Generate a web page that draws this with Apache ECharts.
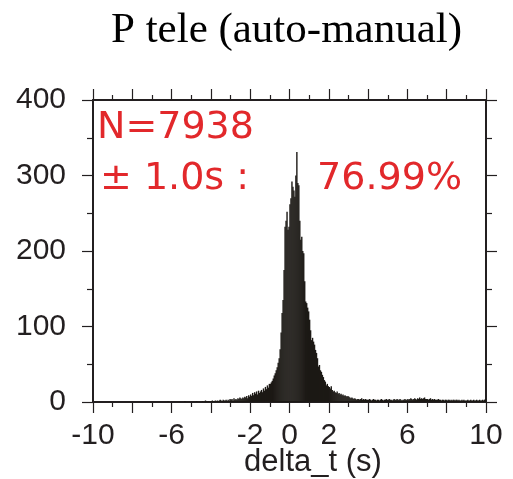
<!DOCTYPE html>
<html><head><meta charset="utf-8">
<script src="https://cdn.jsdelivr.net/npm/echarts@6/dist/echarts.min.js"></script>
<style>html,body{margin:0;padding:0;background:#fff}#c{width:513px;height:479px}</style>
</head><body><div id="c"></div>
<script>
// Histogram bins (0.05 s wide) from -10 s to 10 s
const binStart = -10;
const binWidth = 0.05;
const counts = [
  0,0,0,0,0,0,0,0,0,0,
  0,0,0,0,0,0,0,0,0,0,
  0,0,0,0,0,0,0,0,0,0,
  0,0,0,0,0,0,0,0,0,0,
  0,0,0,0,0,0,0,0,0,0,
  0,0,0,0,0,0,0,0,0,0,
  0,0,0,0,0,0,0,0,0,0,
  0,0,0,0,0,0,1,0,0,0,
  0,0,0,0,0,0,0,0,0,0,
  0,0,0,1,0,0,0,0,0,0,
  0,0,0,0,0,1,0,0,0,0,
  0,1,0,0,2,1,0,1,0,1,
  1,2,1,0,2,1,2,1,2,3,
  2,1,3,2,2,3,1,3,2,4,
  3,4,2,5,3,4,3,5,4,6,
  5,4,6,5,7,6,8,5,9,7,
  10,8,12,9,13,11,14,10,15,12,
  14,16,13,18,15,20,17,22,19,24,
  24,26,28,31,35,38,42,46,52,58,
  70,92,118,135,175,232,240,252,228,232,
  262,270,292,285,280,272,300,331,290,287,
  240,215,219,200,197,160,133,131,125,120,
  109,95,82,85,80,76,69,65,58,47,
  49,42,40,36,33,29,27,22,24,21,
  20,18,21,16,14,15,13,12,14,11,
  12,10,11,9,10,8,9,8,7,8,
  7,6,5,6,5,4,5,4,3,4,
  4,3,4,5,3,4,3,4,3,3,
  3,4,3,2,3,4,3,3,2,3,
  3,2,3,4,3,2,3,3,4,3,
  3,4,3,3,2,3,4,3,3,4,
  3,3,4,3,2,3,3,4,3,3,
  4,3,4,5,4,3,4,5,4,3,
  5,4,6,4,5,4,5,6,4,4,
  4,3,4,5,3,4,3,4,3,3,
  3,4,3,3,2,3,3,2,3,3,
  2,3,3,2,3,2,3,3,2,3,
  3,2,3,2,2,3,2,3,2,2,
  2,3,2,2,3,2,2,3,2,2,
  3,2,2,3,2,2,3,2,3,4
];
const xLabelValues = [-10, -6, -2, 0, 2, 6, 10];
const titleText = 'P tele (auto-manual)';
const xName = 'delta_t (s)';
const statN = 'N=7938';
const statRange = '\u00B1 1.0s :';
const statPct = '76.99%';

const axisColor = '#231f20';
const red = '#e2282b';
const sans = 'Liberation Sans, Arial, sans-serif';
const statFont = '38px "DejaVu Sans", sans-serif';

const chart = echarts.init(document.getElementById('c'), null, {renderer: 'canvas'});
const baseX = {
  type: 'value', min: -10, max: 10, interval: 2,
  axisLine: {show: true, onZero: false, lineStyle: {color: axisColor, width: 2}},
  axisTick: {show: true, inside: false, length: 11, lineStyle: {color: axisColor, width: 1.2}},
  minorTick: {show: true, splitNumber: 2, length: 5, lineStyle: {color: axisColor, width: 1.2}},
  splitLine: {show: false}, minorSplitLine: {show: false}
};
const baseY = {
  type: 'value', min: 0, max: 400, interval: 100,
  axisLine: {show: true, onZero: false, lineStyle: {color: axisColor, width: 2}},
  axisTick: {show: true, inside: false, length: 11, lineStyle: {color: axisColor, width: 1.2}},
  minorTick: {show: true, splitNumber: 2, length: 6, lineStyle: {color: axisColor, width: 1.2}},
  splitLine: {show: false}, minorSplitLine: {show: false}
};
chart.setOption({
  animation: false,
  backgroundColor: '#fff',
  grid: {left: 93, right: 27, top: 100, bottom: 77, containLabel: false, outerBoundsMode: 'none'},
  xAxis: [
    Object.assign({}, baseX, {
      position: 'bottom',
      axisLabel: {
        show: true, margin: 19, fontSize: 30, fontFamily: sans, color: '#231f20',
        formatter: v => xLabelValues.indexOf(v) >= 0 ? String(v) : ''
      },
      name: xName, nameLocation: 'middle', nameGap: 45, nameMoveOverlap: false,
      nameTextStyle: {fontSize: 31, fontFamily: sans, color: '#231f20', padding: [0, 0, 0, 47]}
    }),
    Object.assign({}, baseX, {position: 'top', axisLabel: {show: false}})
  ],
  yAxis: [
    Object.assign({}, baseY, {
      position: 'left',
      axisLabel: {show: true, margin: 27, fontSize: 30, fontFamily: sans, color: '#231f20'}
    }),
    Object.assign({}, baseY, {position: 'right', axisLabel: {show: false}})
  ],
  series: [{
    type: 'bar', xAxisIndex: 0, yAxisIndex: 0,
    barWidth: 1.4,
    itemStyle: {color: '#1c1915'},
    data: counts.map((c, i) => [binStart + binWidth * (i + 0.5), c])
  }],
  graphic: [
    {type: 'text', style: {text: titleText, x: 286.5, y: 31, textAlign: 'center', textVerticalAlign: 'middle',
      font: '43px "Liberation Serif", "Times New Roman", serif', fill: '#000'}},
    {type: 'text', style: {text: statN, x: 97, y: 128, textAlign: 'left', textVerticalAlign: 'middle',
      font: statFont, fill: red}},
    {type: 'text', style: {text: statRange, x: 100, y: 179, textAlign: 'left', textVerticalAlign: 'middle',
      font: statFont, fill: red}},
    {type: 'text', style: {text: statPct, x: 462, y: 179, textAlign: 'right', textVerticalAlign: 'middle',
      font: statFont, fill: red}}
  ]
});
</script></body></html>
